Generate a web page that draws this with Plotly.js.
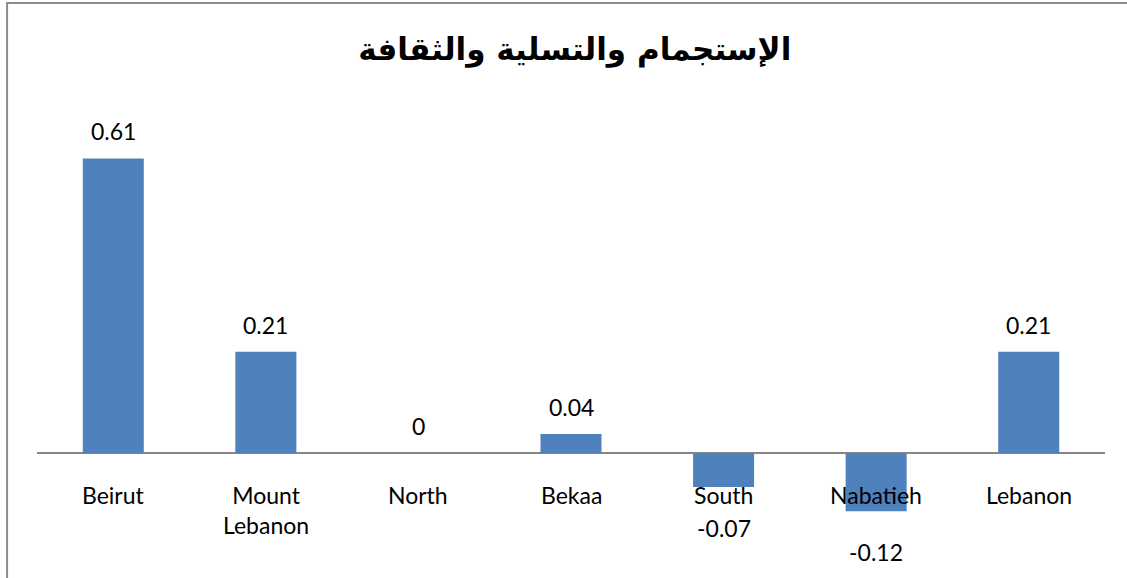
<!DOCTYPE html>
<html>
<head>
<meta charset="utf-8">
<script src="https://cdn.plot.ly/plotly-3.0.1.min.js"></script>
<style>html,body{margin:0;padding:0;background:#fff;}#chart{width:1127px;height:578px;}</style>
</head>
<body>
<div id="chart"></div>
<script>
const categories = ["Beirut", "Mount<br>Lebanon", "North", "Bekaa", "South", "Nabatieh", "Lebanon"];
const values = [0.61, 0.21, 0, 0.04, -0.07, -0.12, 0.21];
const valueLabels = ["0.61", "0.21", "0", "0.04", "-0.07", "-0.12", "0.21"];
const chartTitle = "الإستجمام والتسلية والثقافة";

const labelFont = {family: "Lato, 'Open Sans', sans-serif", size: 23, color: "#000"};

const annotations = [];
categories.forEach((c, i) => {
  annotations.push({
    x: i, y: 0, xref: "x", yref: "y", text: c, showarrow: false,
    yanchor: "top", yshift: -26, font: labelFont, align: "center"
  });
  const v = values[i];
  annotations.push({
    x: i, y: v, xref: "x", yref: "y", text: valueLabels[i], showarrow: false,
    yanchor: "middle", yshift: v < 0 ? -41 : 27, font: labelFont
  });
});

const trace = {
  type: "bar",
  x: categories.map((c, i) => i),
  y: values,
  marker: {color: "#4F81BD", line: {width: 0}},
  hoverinfo: "skip"
};

const layout = {
  width: 1127, height: 578,
  margin: {l: 37, r: 22, t: 115, b: 4},
  paper_bgcolor: "#fff", plot_bgcolor: "#fff",
  bargap: 0.6,
  showlegend: false,
  title: {
    text: "<b>" + chartTitle + "</b>",
    x: 0.51, xanchor: "center", y: 0.915, yanchor: "middle",
    font: {family: "'DejaVu Sans', Arial, sans-serif", size: 31, color: "#000"}
  },
  xaxis: {range: [-0.5, 6.5], showticklabels: false, showgrid: false, zeroline: false, showline: false, ticks: ""},
  yaxis: {range: [-0.25, 0.7], showticklabels: false, showgrid: false, zeroline: true, zerolinecolor: "#868686", zerolinewidth: 2, showline: false, ticks: ""},
  annotations: annotations,
  shapes: [{
    type: "rect", xref: "paper", yref: "paper",
    x0: -0.028, x1: 1.2, y0: -0.2, y1: 1.244,
    line: {color: "#8C8C8C", width: 2}, fillcolor: "rgba(0,0,0,0)", layer: "below"
  }]
};

Plotly.newPlot("chart", [trace], layout, {displayModeBar: false, staticPlot: true});
</script>
</body>
</html>
